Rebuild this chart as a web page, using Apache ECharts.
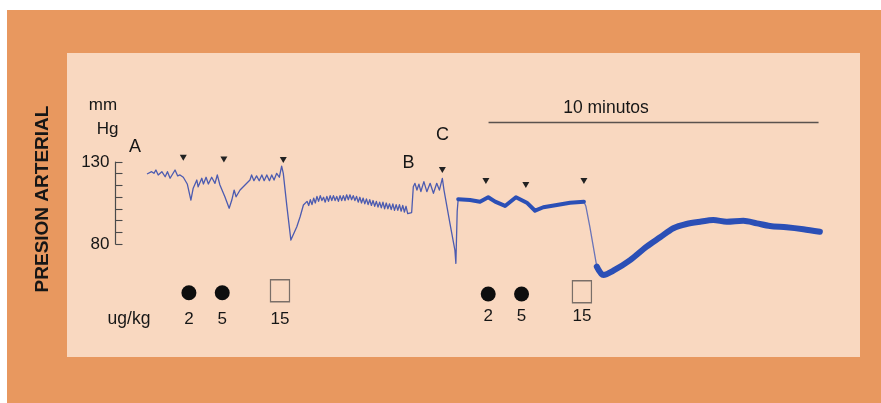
<!DOCTYPE html>
<html>
<head>
<meta charset="utf-8">
<script src="https://cdn.jsdelivr.net/npm/echarts@6/dist/echarts.min.js"></script>
<style>
html,body{margin:0;padding:0;background:#ffffff;}
#chart{width:881px;height:403px;}
</style>
</head>
<body>
<div id="chart"></div>
<script>
// ---- DATA (time in minutes, pressure in mmHg) ----
// Segment A: baseline with injections 2, 5, 15 ug/kg (thin trace)
const traceA = [
  [0.00,122.7],[0.14,124.1],[0.21,123.1],[0.27,125.1],[0.34,122.1],[0.45,124.1],[0.55,121.0],[0.62,124.1],
  [0.70,120.1],[0.85,125.1],[0.93,121.5],[1.00,122.1],[1.10,120.7],[1.22,116.6],[1.33,106.8],[1.40,114.0],
  [1.45,114.9],[1.51,119.0],[1.55,114.9],[1.66,120.1],[1.71,116.6],[1.79,120.7],[1.86,116.6],[1.96,120.7],
  [2.06,117.0],[2.13,122.1],[2.21,116.0],[2.36,108.8],[2.49,101.8],[2.57,106.8],[2.64,112.9],[2.70,108.8],
  [2.82,112.9],[2.97,116.0],[3.12,119.0],[3.17,122.1],[3.24,118.6],[3.32,121.5],[3.40,118.6],[3.48,122.1],
  [3.55,118.6],[3.63,122.1],[3.71,118.6],[3.78,122.1],[3.85,119.0],[3.93,123.1],[4.01,120.7],[4.08,127.5],
  [4.13,123.1],[4.24,102.8],[4.36,82.4],[4.39,81.4],[4.54,90.5],[4.64,96.6],[4.74,103.8]
];
// Plateau after 15 ug/kg (thin, pulsatile)
const tracePlateau = [
  [4.85,106.0],[4.90,103.5],[4.95,107.0],[5.00,104.0],[5.05,108.0],[5.10,105.0],[5.15,109.0],[5.20,106.0],
  [5.25,109.5],[5.30,106.5],[5.35,108.5],[5.40,105.5],[5.45,109.0],[5.50,106.0],[5.55,109.5],[5.60,106.5],
  [5.65,109.5],[5.70,106.5],[5.75,109.0],[5.80,106.0],[5.85,109.5],[5.90,106.5],[5.95,109.5],[6.00,106.5],
  [6.05,110.0],[6.10,107.0],[6.15,110.0],[6.20,107.0],[6.25,109.5],[6.30,106.5],[6.35,109.0],[6.40,105.5],
  [6.45,108.5],[6.50,105.0],[6.55,108.0],[6.60,104.5],[6.65,107.5],[6.70,104.0],[6.75,107.0],[6.80,103.5],
  [6.85,106.5],[6.90,103.0],[6.95,106.0],[7.00,102.5],[7.05,105.5],[7.10,102.0],[7.15,105.5],[7.20,101.5],
  [7.25,105.0],[7.30,101.5],[7.35,104.5],[7.40,101.0],[7.45,104.5],[7.50,100.5],[7.55,104.0],[7.60,100.5],
  [7.65,104.0],[7.70,100.0],[7.75,103.5],[7.80,99.5],[7.85,103.0],[7.90,98.5]
];
// Segment B and the bolus C (thin)
const traceB = [
  [8.02,99.2],[8.07,114.9],[8.12,117.0],[8.18,112.9],[8.24,116.5],[8.30,112.0],[8.39,118.0],[8.48,111.9],
  [8.58,117.0],[8.68,110.9],[8.78,117.0],[8.86,112.9],[8.95,120.0],[9.00,112.9],[9.18,92.6],[9.33,76.3],
  [9.36,68.2],[9.40,100.0],[9.43,107.3]
];
// Segment C (thick trace) with injections 2, 5, 15 ug/kg
const traceC = [
  [9.43,107.3],[9.79,106.8],[10.09,105.8],[10.34,108.5],[10.55,105.8],[10.85,103.2],[11.18,108.5],
  [11.51,105.2],[11.76,100.3],[12.01,102.4],[12.42,103.8],[12.82,105.2],[13.24,105.8]
];
const traceDrop = [[13.24,105.8],[13.30,103.0],[13.42,90.5],[13.63,66.2]];
const traceRecovery = [
  [13.63,66.2],[13.83,61.1],[14.13,63.7],[14.64,70.2],[15.14,78.4],[15.55,84.1],[15.95,89.6],[16.35,92.2],
  [16.76,93.6],[17.16,94.6],[17.57,93.6],[18.07,94.2],[18.48,92.6],[18.88,91.0],[19.38,90.2],[19.89,89.0],
  [20.39,87.5]
];
// Injection arrowheads (time, level just above trace)
const arrowMarks = [[1.10,132.6],[2.33,131.6],[4.13,131.2],[8.95,125.1],[10.27,118.4],[11.48,116.0],[13.24,118.4]];
// Doses (ug/kg) and their times
const doseTimes = [1.27, 2.28, 4.03, 10.34, 11.35, 13.18];
const doseValues = [2, 5, 15, 2, 5, 15];
const doseKinds = ['dot', 'dot', 'box', 'dot', 'dot', 'box'];
// Scale bar: 10 minutes
const scaleBar = [10.35, 20.35];
// Pressure scale bracket
const bracketTicks = [80, 87.14, 94.29, 101.43, 108.57, 115.71, 122.86, 130];
const bracketLabels = [80, 130];

// ---- layout constants ----
const FONT = 'Liberation Sans, Arial, sans-serif';
const DOSE_MARK_Y = [50.3, 50.3, 51.5, 49.5, 49.5, 50.9];
const DOSE_LABEL_Y = [34.1, 34.1, 34.1, 35.7, 35.7, 35.7];
const BAR_Y = 154.1;
const THIN = '#4c5bb0';
const THICK = '#2b4fb6';
const INK = '#161616';

const dots = [], boxes = [], doseLabels = [];
doseTimes.forEach((t, i) => {
  (doseKinds[i] === 'dot' ? dots : boxes).push([t, DOSE_MARK_Y[i]]);
  doseLabels.push({ value: [t, DOSE_LABEL_Y[i]], name: String(doseValues[i]) });
});

const chart = echarts.init(document.getElementById('chart'), null, { renderer: 'canvas' });
const txt = (x, y, s, size, extra) => Object.assign({
  type: 'text', x: x, y: y, z: 50,
  style: Object.assign({ text: s, fill: INK, font: (size || 17) + 'px ' + FONT, align: 'center', verticalAlign: 'middle' }, extra || {})
});

chart.setOption({
  animation: false,
  backgroundColor: '#ffffff',
  graphic: [
    { type: 'rect', z: -10, shape: { x: 7, y: 10, width: 874, height: 393 }, style: { fill: '#e8985f' } },
    { type: 'rect', z: -9, shape: { x: 67, y: 53, width: 793, height: 304 }, style: { fill: '#f9d8c0' } },
    { type: 'text', z: 50, x: 43, y: 199, rotation: Math.PI / 2,
      style: { text: 'PRESION ARTERIAL', fill: INK, font: 'bold 19px ' + FONT, align: 'center', verticalAlign: 'middle' } },
    txt(103, 105, 'mm'),
    txt(107.5, 129, 'Hg'),
    txt(135, 147, 'A', 18),
    txt(408.5, 163, 'B', 18),
    txt(442.5, 135, 'C', 18),
    txt(606, 108.5, '10 minutos', 17.5),
    txt(129, 319, 'ug/kg', 17.5)
  ],
  grid: [
    { left: 97.5, top: 112.8, width: 742.5, height: 213.2 },
    { left: 115.5, top: 162, width: 20, height: 82 }
  ],
  xAxis: [
    { type: 'value', gridIndex: 0, min: -1.5, max: 21, show: false },
    { type: 'value', gridIndex: 1, min: 0, max: 1, show: false }
  ],
  yAxis: [
    { type: 'value', gridIndex: 0, min: 30, max: 160, show: false },
    { type: 'value', gridIndex: 1, min: 80, max: 130, position: 'left',
      axisLine: { show: true, lineStyle: { color: '#4a4a4a', width: 1.2 } },
      axisTick: { show: true, inside: true, length: 7, customValues: bracketTicks, lineStyle: { color: '#4a4a4a', width: 1.1 } },
      axisLabel: { show: true, customValues: bracketLabels, margin: 6, color: INK, fontSize: 17, fontFamily: FONT },
      splitLine: { show: false }
    }
  ],
  series: [
    { type: 'line', name: 'A', data: traceA.concat(tracePlateau, traceB), showSymbol: false, symbol: 'none',
      lineStyle: { color: THIN, width: 1.3, join: 'round' }, z: 5 },
    { type: 'line', name: 'drop', data: traceDrop, showSymbol: false, symbol: 'none',
      lineStyle: { color: '#6a74b8', width: 1.3 }, z: 5 },
    { type: 'line', name: 'C', data: traceC, showSymbol: false, symbol: 'none',
      lineStyle: { color: THICK, width: 4, join: 'round', cap: 'round' }, z: 6 },
    { type: 'line', name: 'recovery', data: traceRecovery, showSymbol: false, symbol: 'none', smooth: 0.3,
      lineStyle: { color: THICK, width: 6, join: 'round', cap: 'round' }, z: 6 },
    { type: 'scatter', name: 'arrows', data: arrowMarks, symbol: 'triangle', symbolRotate: 180, symbolSize: [7, 6],
      itemStyle: { color: '#222222', opacity: 1 }, z: 7 },
    { type: 'scatter', name: 'dots', data: dots, symbol: 'circle', symbolSize: 15,
      itemStyle: { color: '#0e0e0e', opacity: 1 }, z: 7 },
    { type: 'scatter', name: 'boxes', data: boxes, symbol: 'rect', symbolSize: [19, 22],
      itemStyle: { color: 'rgba(0,0,0,0)', borderColor: '#7a6f68', borderWidth: 1.3, opacity: 1 }, z: 7 },
    { type: 'scatter', name: 'doseLabels', data: doseLabels, symbolSize: 0,
      itemStyle: { opacity: 1 },
      label: { show: true, position: 'inside', formatter: p => p.name, color: INK, fontSize: 17, fontFamily: FONT, opacity: 1 }, z: 7 },
    { type: 'line', name: 'bar', data: [[scaleBar[0], BAR_Y], [scaleBar[1], BAR_Y]], showSymbol: false, symbol: 'none',
      lineStyle: { color: '#5a524e', width: 1.3 }, z: 5 }
  ]
});
</script>
</body>
</html>
